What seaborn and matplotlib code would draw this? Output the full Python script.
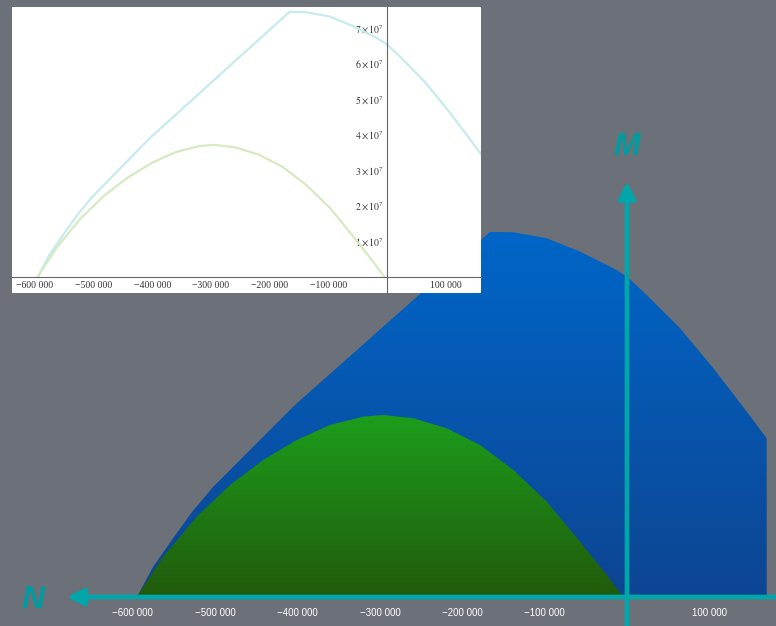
import numpy as np
import matplotlib
matplotlib.use('Agg')
import matplotlib.pyplot as plt
import seaborn as sns
from matplotlib.colors import LinearSegmentedColormap
from matplotlib.transforms import blended_transform_factory
from matplotlib.ticker import MultipleLocator, FixedLocator, FuncFormatter

# Data (N on x, M on y)
blue_x = [-595000, -575600, -550100, -528200, -502700, -403200, -166400, -138100,
          -97500, -57100, -16600, 0, 23900, 64400, 104800, 145400, 169600]
blue_y = [0, 0.613e7, 1.226e7, 1.737e7, 2.248e7, 3.924e7, 7.460e7, 7.454e7,
          7.331e7, 7.057e7, 6.718e7, 6.546e7, 6.172e7, 5.492e7, 4.674e7, 3.787e7, 3.243e7]

green_x = [-595400, -563100, -522500, -482100, -441700, -401100, -360700, -320200,
           -295900, -259500, -218900, -178500, -138100, -97500, -57100, -24700, -4500]
green_y = [0, 0.824e7, 1.641e7, 2.289e7, 2.800e7, 3.209e7, 3.515e7, 3.685e7,
           3.720e7, 3.652e7, 3.448e7, 3.106e7, 2.596e7, 1.948e7, 1.130e7, 0.450e7, 0]

n_ticks = [-600000, -500000, -400000, -300000, -200000, -100000, 100000]
n_labels = ['−600 000', '−500 000', '−400 000', '−300 000', '−200 000', '−100 000', '100 000']
m_ticks = [1e7, 2e7, 3e7, 4e7, 5e7, 6e7, 7e7]

sns.set_style('white')
plt.rcParams['font.family'] = ['Liberation Sans', 'DejaVu Sans']
plt.rcParams['mathtext.fontset'] = 'stix'

bg = '#6b7079'
teal = '#00a6aa'

fig = plt.figure(figsize=(7.76, 6.26), dpi=100)
fig.patch.set_facecolor(bg)

# ---- main slide chart ----
ax = fig.add_axes([0, 0, 1, 1])
ax.set_axis_off()

def gradient_fill(xs, ys, top, bottom, z):
    poly = ax.fill_between(xs, ys, 0, color='none', lw=0, zorder=z)
    cmap = LinearSegmentedColormap.from_list('g', [bottom, top])
    grad = np.linspace(0, 1, 256).reshape(-1, 1)
    im = ax.imshow(grad, extent=[min(xs), max(xs), 0, max(ys)], origin='lower',
                   aspect='auto', cmap=cmap, zorder=z)
    im.set_clip_path(poly.get_paths()[0], transform=ax.transData)

gradient_fill(blue_x, blue_y, '#0066c8', '#0d4592', 1)
gradient_fill(green_x, green_y, '#1c9e1c', '#215a0c', 2)

ax.set_xlim(-761400, 180900)
ax.set_ylim(-5.93e6, 1.22e8)

# axes arrows
arrow = dict(arrowstyle='-|>,head_length=0.9,head_width=0.45',
             color=teal, lw=3.4, mutation_scale=11, shrinkA=0, shrinkB=0)
ax.annotate('', xy=(0.086, 0), xytext=(1.0, 0),
            xycoords=('axes fraction', 'data'), textcoords=('axes fraction', 'data'),
            arrowprops=arrow, zorder=5)
ax.annotate('', xy=(0, 0.71), xytext=(0, 0.0),
            xycoords=('data', 'axes fraction'), textcoords=('data', 'axes fraction'),
            arrowprops=arrow, zorder=5)

ax.text(0.0, 0.765, 'M', transform=blended_transform_factory(ax.transData, ax.transAxes),
        ha='center', va='center', fontsize=23, fontweight='bold', style='italic', color='#009ca0')
ax.text(0.042, 0.041, 'N', transform=ax.transAxes,
        ha='center', va='center', fontsize=23, fontweight='bold', style='italic', color='#009ca0')

btrans = blended_transform_factory(ax.transData, ax.transAxes)
for t, lab in zip(n_ticks, n_labels):
    ax.text(t, 0.021, lab, transform=btrans, ha='center', va='center',
            fontsize=7, color='white', zorder=6)

# ---- inset (original plot) ----
ax_in = fig.add_axes([12 / 776, 333 / 626, 469 / 776, 286 / 626])
ax_in.set_facecolor('white')
sns.lineplot(x=blue_x, y=blue_y, ax=ax_in, color='#c6ebef', lw=1.6, sort=False, estimator=None)
sns.lineplot(x=green_x, y=green_y, ax=ax_in, color='#d6eac2', lw=1.6, sort=False, estimator=None)
ax_in.set_xlim(-639000, 160000)
ax_in.set_ylim(-0.45e7, 7.6e7)
for s in ['top', 'right']:
    ax_in.spines[s].set_visible(False)
ax_in.spines['left'].set_position(('data', 0))
ax_in.spines['bottom'].set_position(('data', 0))
for s in ['left', 'bottom']:
    ax_in.spines[s].set_color('#666666')
    ax_in.spines[s].set_linewidth(0.8)

ax_in.xaxis.set_major_locator(FixedLocator(n_ticks))
ax_in.set_xticklabels(n_labels)
ax_in.xaxis.set_minor_locator(MultipleLocator(20000))
ax_in.yaxis.set_major_locator(FixedLocator(m_ticks))
ax_in.yaxis.set_major_formatter(FuncFormatter(lambda v, p: r'$%d\times10^{7}$' % round(v / 1e7)))
ax_in.yaxis.set_minor_locator(MultipleLocator(0.2e7))
ax_in.tick_params(axis='both', which='both', direction='in', colors='#666666',
                  labelcolor='#333333', labelsize=7, width=0.6)
ax_in.tick_params(which='major', length=4)
ax_in.tick_params(which='minor', length=2)
ax_in.tick_params(axis='x', pad=3)
ax_in.tick_params(axis='y', pad=2)
for lab in ax_in.get_xticklabels():
    lab.set_family(['Liberation Serif', 'DejaVu Serif'])

fig.savefig('out.png', dpi=100, facecolor=bg)
